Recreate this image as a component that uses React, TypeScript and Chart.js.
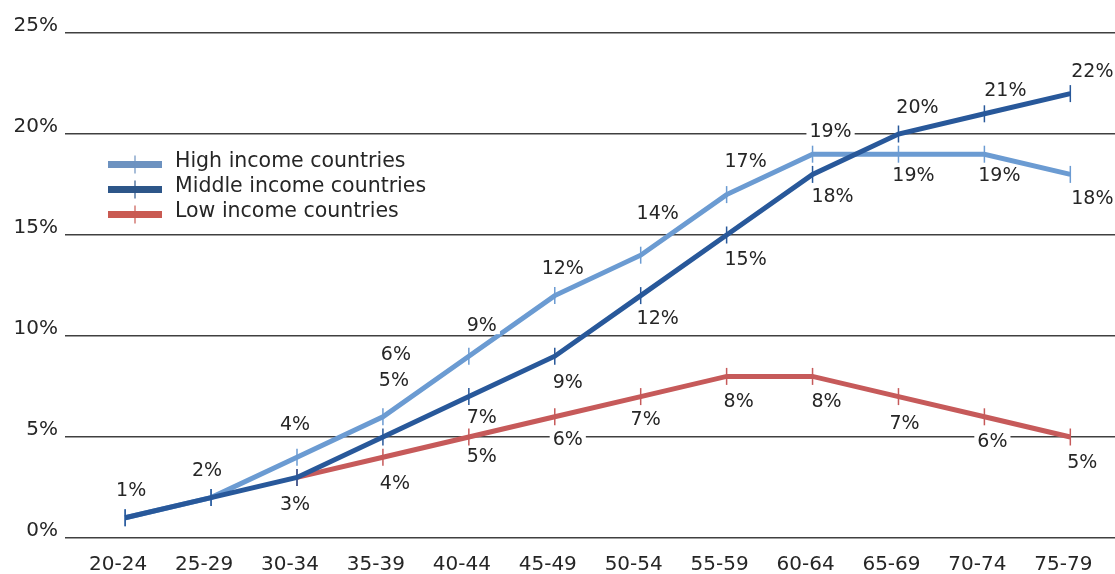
import { useEffect, useRef } from 'react';
import { Chart, registerables } from 'chart.js';

Chart.register(...registerables);

// ---- data ----
const categories = ['20-24', '25-29', '30-34', '35-39', '40-44', '45-49', '50-54', '55-59', '60-64', '65-69', '70-74', '75-79'];
const highIncome = [1, 2, 4, 6, 9, 12, 14, 17, 19, 19, 19, 18];
const middleIncome = [1, 2, 3, 5, 7, 9, 12, 15, 18, 20, 21, 22];
const lowIncome: (number | null)[] = [null, null, 3, 4, 5, 6, 7, 8, 8, 7, 6, 5];
const seriesNames = ['High income countries', 'Middle income countries', 'Low income countries'];
const yMin = 0;
const yMax = 25;
const yStep = 5;

// ---- styling (label placement relative to each point, px) ----
const highLabelOffsets: ([number, number] | null)[] = [null, null, [-2, -33], [13, -62], [13, -31], [8, -27], [17, -42], [19, -33], [18, -23], [15, 21], [15, 21], [22, 24]];
const middleLabelOffsets: ([number, number] | null)[] = [[6, -27], [-4, -27], [-2, 27], [11, -56], [13, 21], [13, 26], [17, 23], [19, 25], [20, 22], [19, -26], [21, -23], [22, -22]];
const lowLabelOffsets: ([number, number] | null)[] = [null, null, null, [12, 26], [13, 20], [13, 23], [5, 23], [12, 25], [14, 25], [6, 27], [8, 25], [12, 26]];

const colors = ['#6b9bd2', '#28589a', '#c65a5a'];
const legendColors = ['#6d92c0', '#2d5689', '#c95a52'];
const FONT = '"DejaVu Sans", "Liberation Sans", sans-serif';
const TEXT = '#262626';

const valueLabels = {
  id: 'valueLabels',
  afterDatasetsDraw(chart: any) {
    const ctx = chart.ctx as CanvasRenderingContext2D;
    ctx.save();
    ctx.font = `19px ${FONT}`;
    ctx.textAlign = 'center';
    ctx.textBaseline = 'middle';
    chart.data.datasets.forEach((ds: any, di: number) => {
      const meta = chart.getDatasetMeta(di);
      const offs = ds.labelOffsets as ([number, number] | null)[];
      meta.data.forEach((pt: any, i: number) => {
        const o = offs[i];
        const v = ds.data[i].y;
        if (!o || v == null) return;
        const x = pt.x + o[0];
        const y = pt.y + o[1];
        const text = `${v}%`;
        const w = ctx.measureText(text).width;
        ctx.fillStyle = '#ffffff';
        ctx.fillRect(x - w / 2 - 3, y - 9, w + 6, 18);
        ctx.fillStyle = TEXT;
        ctx.fillText(text, x, y + 0.5);
      });
    });
    ctx.restore();
  },
};

const customLegend = {
  id: 'customLegend',
  afterDraw(chart: any) {
    const ctx = chart.ctx as CanvasRenderingContext2D;
    ctx.save();
    ctx.font = `20.5px ${FONT}`;
    ctx.textAlign = 'left';
    ctx.textBaseline = 'alphabetic';
    seriesNames.forEach((name, i) => {
      const base = 167 + i * 25;
      const yc = base - 2.5;
      ctx.fillStyle = legendColors[i];
      ctx.fillRect(108, yc - 3.5, 54, 7);
      ctx.strokeStyle = legendColors[i];
      ctx.lineWidth = 1.2;
      ctx.beginPath();
      ctx.moveTo(135, yc - 9);
      ctx.lineTo(135, yc + 9);
      ctx.stroke();
      ctx.fillStyle = TEXT;
      ctx.fillText(name, 175, base);
    });
    ctx.restore();
  },
};

export default function App() {
  const ref = useRef<HTMLCanvasElement | null>(null);

  useEffect(() => {
    if (!ref.current) return;
    Chart.defaults.font.family = FONT;
    const mk = (vals: (number | null)[]) => vals.map((v, i) => ({ x: i, y: v }));
    const lineDs = (label: string, vals: (number | null)[], color: string, order: number, offs: any) => ({
      label,
      data: mk(vals),
      borderColor: color,
      backgroundColor: color,
      borderWidth: 5,
      tension: 0,
      pointStyle: 'line',
      rotation: 90,
      pointRadius: 8.5,
      pointBorderWidth: 1.5,
      pointBorderColor: color,
      pointHoverRadius: 8.5,
      order,
      labelOffsets: offs,
      spanGaps: false,
    });
    const chart = new Chart(ref.current, {
      type: 'line',
      data: {
        datasets: [
          lineDs(seriesNames[0], highIncome, colors[0], 1, highLabelOffsets),
          lineDs(seriesNames[1], middleIncome, colors[1], 0, middleLabelOffsets),
          lineDs(seriesNames[2], lowIncome, colors[2], 2, lowLabelOffsets),
        ] as any,
      },
      options: {
        animation: false,
        responsive: false,
        devicePixelRatio: 1,
        layout: { autoPadding: false, padding: { top: 33, right: 0, left: 0, bottom: 0 } },
        plugins: { legend: { display: false }, tooltip: { enabled: false } },
        scales: {
          x: {
            type: 'linear',
            min: -0.7,
            max: 11.52,
            grid: { display: false, drawTicks: false },
            border: { display: false },
            afterBuildTicks: (scale: any) => {
              scale.ticks = categories.map((_, i) => ({ value: i }));
            },
            afterFit: (scale: any) => {
              scale.height = 36;
            },
            ticks: {
              autoSkip: false,
              maxRotation: 0,
              padding: 15,
              labelOffset: -7,
              color: TEXT,
              font: { size: 20, family: FONT },
              callback: (v: any) => categories[v] ?? '',
            },
          },
          y: {
            min: yMin,
            max: yMax,
            grid: { color: '#404040', lineWidth: 1.5, drawTicks: false },
            border: { display: false },
            afterFit: (scale: any) => {
              scale.width = 65;
            },
            ticks: {
              stepSize: yStep,
              padding: 7,
              labelOffset: -7,
              color: TEXT,
              font: { size: 20, family: FONT },
              callback: (v: any) => `${v}%`,
            },
          },
        },
      } as any,
      plugins: [valueLabels, customLegend],
    });
    return () => chart.destroy();
  }, []);

  return (
    <div style={{ position: 'absolute', left: 0, top: 0, width: 1115, height: 574, background: '#fff' }}>
      <canvas ref={ref} width={1115} height={574} style={{ width: 1115, height: 574 }} />
    </div>
  );
}
